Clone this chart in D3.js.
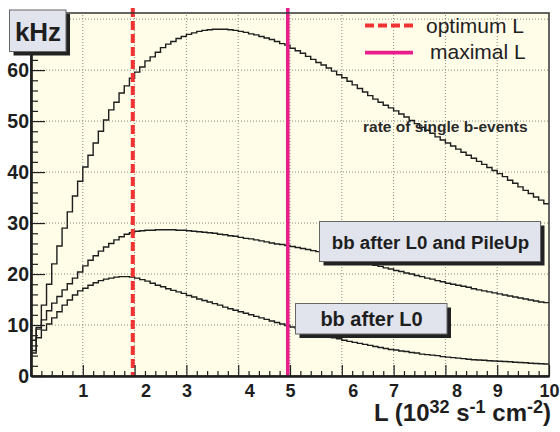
<!DOCTYPE html>
<html><head><meta charset="utf-8">
<script src="https://cdn.jsdelivr.net/npm/d3@7"></script>
<style>
body{margin:0;background:#fff}
svg{display:block}
text{font-family:"Liberation Sans",Arial,Helvetica,sans-serif}
</style>
</head><body>
<svg id="c" width="560" height="432"></svg>
<script>
// ---- data (kHz per luminosity bin of 0.1, L from 0 to 10) ----
const singleB = [
 5.0, 9.5, 13.9, 18.0, 22.0, 25.5, 29.0, 32.2, 35.3, 38.2,
 41.0, 43.3, 45.7, 48.0, 50.2, 52.2, 53.7, 55.5, 56.9, 58.4,
 59.6, 60.6, 61.8, 62.6, 63.5, 64.4, 65.1, 65.6, 66.2, 66.6,
 67.0, 67.3, 67.6, 67.8, 67.9, 68.0, 68.0, 68.0, 67.9, 67.8,
 67.6, 67.4, 67.1, 66.9, 66.6, 66.3, 66.0, 65.6, 65.2, 64.9,
 64.3, 63.8, 63.3, 62.7, 62.1, 61.5, 61.0, 60.4, 59.8, 59.1,
 58.5, 57.8, 57.1, 56.4, 55.7, 55.0, 54.3, 53.7, 53.1, 52.6,
 52.0, 51.4, 50.8, 50.1, 49.5, 48.8, 48.2, 47.6, 46.9, 46.3,
 45.7, 45.1, 44.5, 43.9, 43.3, 42.7, 42.1, 41.5, 40.9, 40.3,
 39.7, 39.1, 38.4, 37.8, 37.1, 36.4, 35.8, 35.1, 34.5, 33.8];
const bbL0PileUp = [
 7.0, 9.2, 11.0, 12.8, 14.3, 15.6, 16.9, 18.1, 19.2, 20.4,
 21.6, 22.7, 23.6, 24.5, 25.3, 26.0, 26.7, 27.3, 27.8, 28.1,
 28.4, 28.5, 28.6, 28.6, 28.7, 28.7, 28.7, 28.7, 28.6, 28.6,
 28.5, 28.4, 28.3, 28.2, 28.1, 28.0, 27.8, 27.7, 27.5, 27.4,
 27.2, 27.0, 26.9, 26.7, 26.5, 26.3, 26.1, 25.9, 25.8, 25.6,
 25.4, 25.2, 25.0, 24.8, 24.6, 24.4, 24.2, 23.9, 23.7, 23.4,
 23.2, 23.0, 22.7, 22.5, 22.2, 22.0, 21.7, 21.5, 21.2, 21.0,
 20.7, 20.5, 20.2, 20.0, 19.7, 19.5, 19.2, 19.0, 18.7, 18.5,
 18.2, 18.0, 17.8, 17.6, 17.4, 17.1, 16.9, 16.7, 16.5, 16.3,
 16.1, 15.9, 15.7, 15.5, 15.3, 15.1, 14.9, 14.7, 14.5, 14.4];
const bbL0 = [
 4.5, 7.5, 9.0, 10.2, 11.4, 12.6, 13.9, 14.9, 15.9, 16.7,
 17.2, 17.8, 18.3, 18.7, 19.0, 19.2, 19.4, 19.5, 19.5, 19.4,
 19.2, 18.9, 18.6, 18.2, 17.8, 17.5, 17.1, 16.8, 16.5, 16.2,
 15.8, 15.5, 15.1, 14.8, 14.5, 14.2, 13.9, 13.5, 13.2, 12.9,
 12.6, 12.3, 12.0, 11.7, 11.4, 11.1, 10.8, 10.5, 10.2, 9.9,
 9.6, 9.3, 9.1, 8.8, 8.5, 8.2, 8.0, 7.7, 7.5, 7.3,
 7.0, 6.8, 6.6, 6.4, 6.2, 6.0, 5.8, 5.6, 5.4, 5.2,
 5.1, 4.9, 4.8, 4.6, 4.5, 4.3, 4.2, 4.1, 4.0, 3.8,
 3.7, 3.6, 3.5, 3.4, 3.3, 3.2, 3.15, 3.1, 3.0, 2.95,
 2.9, 2.85, 2.8, 2.7, 2.65, 2.6, 2.5, 2.45, 2.4, 2.35];
const binWidth = 0.1;
const xTickValues = [1,2,3,4,5,6,7,8,9,10];
const yTickValues = [0,10,20,30,40,50,60,70];
const yTickLabels = ["0","10","20","30","40","50","60",""];
const optimumL = 1.965;
const maximalL = 4.957;
const legendLabels = ["optimum L", "maximal L"];
const curveLabels = ["rate of single b-events", "bb after L0 and PileUp", "bb after L0"];
const yLabel = "kHz";

// ---- layout ----
const svg = d3.select("#c");
const X0 = 31, X1 = 549, Y0 = 376, Y1 = 13;
const x = d3.scaleLinear().domain([0, 10]).range([X0, X1]);
const y = d3.scaleLinear().domain([0, 71.2]).range([Y0, Y1]);
const red = "#ef3333", magenta = "#e91e8c", ink = "#1e1e1e";

svg.append("rect").attr("x", X0).attr("y", Y1).attr("width", X1 - X0).attr("height", Y0 - Y1)
  .attr("fill", "#fffce8");

// grid
const grid = svg.append("g").attr("stroke", "#8a8a80").attr("stroke-width", 1).attr("stroke-dasharray", "1,2");
grid.selectAll(".gx").data(xTickValues.filter(d => d < 10)).join("line")
  .attr("x1", d => x(d)).attr("x2", d => x(d)).attr("y1", Y0).attr("y2", Y1);
grid.selectAll(".gy").data(yTickValues.filter(d => d > 0)).join("line")
  .attr("x1", X0).attr("x2", X1).attr("y1", d => y(d)).attr("y2", d => y(d));

// histograms
const line = d3.line().x(d => x(d[0])).y(d => y(d[1])).curve(d3.curveStepAfter);
function pts(vals) {
  const p = vals.map((v, i) => [i * binWidth, v]);
  p.push([vals.length * binWidth, vals[vals.length - 1]]);
  return p;
}
[singleB, bbL0PileUp, bbL0].forEach(vals => {
  svg.append("path").attr("d", line(pts(vals))).attr("fill", "none")
    .attr("stroke", ink).attr("stroke-width", 1.4);
});

// vertical lines
svg.append("line").attr("x1", x(optimumL)).attr("x2", x(optimumL)).attr("y1", y(72.2)).attr("y2", Y0)
  .attr("stroke", red).attr("stroke-width", 4).attr("stroke-dasharray", "9,4");
svg.append("line").attr("x1", x(maximalL)).attr("x2", x(maximalL)).attr("y1", y(72.2)).attr("y2", Y0)
  .attr("stroke", magenta).attr("stroke-width", 3.6);

// label boxes
function pave(bx, by, bw, bh, txt, fs, tx, ty) {
  const g = svg.append("g");
  g.append("rect").attr("x", bx + 4).attr("y", by + 4).attr("width", bw).attr("height", bh).attr("fill", "#222");
  g.append("rect").attr("x", bx).attr("y", by).attr("width", bw).attr("height", bh)
    .attr("fill", "#e1e4ec").attr("stroke", "#666").attr("stroke-width", 1);
  g.append("text").attr("x", tx).attr("y", ty).attr("text-anchor", "middle")
    .attr("font-weight", "bold").attr("font-size", fs).attr("fill", ink).text(txt);
}
pave(319.5, 221.5, 221, 40, curveLabels[1], 18.7, 430.5, 248.5);
pave(295.5, 303.5, 151.5, 30.5, curveLabels[2], 20, 371.5, 325.5);

svg.append("text").attr("x", 363).attr("y", 132).attr("font-weight", "bold").attr("font-size", 15.5)
  .attr("fill", "#2a2a2a").text(curveLabels[0]);

// frame
svg.append("rect").attr("x", X0).attr("y", Y1).attr("width", X1 - X0).attr("height", Y0 - Y1)
  .attr("fill", "none").attr("stroke", "#333").attr("stroke-width", 1.5);

// axes
const minorX = d3.range(0, 10.001, 0.2).filter(d => Math.abs(d - Math.round(d)) > 1e-6);
const minorY = d3.range(0, 71, 2).filter(d => d % 10 !== 0);

const gxm = svg.append("g").attr("transform", `translate(0,${Y0})`)
  .call(d3.axisBottom(x).tickValues(minorX).tickSize(-5).tickSizeOuter(0).tickFormat(""));
const gx = svg.append("g").attr("transform", `translate(0,${Y0})`)
  .call(d3.axisBottom(x).tickValues(xTickValues).tickSize(-11).tickSizeOuter(0).tickPadding(8).tickFormat(d3.format("d")));
gx.selectAll("text").attr("font-size", 18).attr("font-weight", "bold").attr("fill", ink)
  .attr("dx", d => (d % 2 === 0 && d < 10) ? 11 : 0);

const gym = svg.append("g").attr("transform", `translate(${X0},0)`)
  .call(d3.axisLeft(y).tickValues(minorY).tickSize(-7).tickSizeOuter(0).tickFormat(""));
const gy = svg.append("g").attr("transform", `translate(${X0},0)`)
  .call(d3.axisLeft(y).tickValues(yTickValues).tickSize(-14).tickSizeOuter(0).tickPadding(2)
    .tickFormat((d, i) => yTickLabels[i]));
gy.selectAll("text").attr("font-size", 19.5).attr("font-weight", "bold").attr("fill", ink);

[gxm, gx, gym, gy].forEach(g => {
  g.selectAll(".tick line").attr("stroke", ink).attr("stroke-width", 1.2);
  g.select(".domain").attr("stroke", ink).attr("stroke-width", 2.2);
});

// x axis title
const xt = svg.append("text").attr("x", 551).attr("y", 421).attr("text-anchor", "end")
  .attr("font-weight", "bold").attr("font-size", 24).attr("fill", ink);
xt.append("tspan").text("L (10");
xt.append("tspan").attr("dy", -8).attr("font-size", 18).text("32");
xt.append("tspan").attr("dy", 8).text(" s");
xt.append("tspan").attr("dy", -8).attr("font-size", 18).text("-1");
xt.append("tspan").attr("dy", 8).text(" cm");
xt.append("tspan").attr("dy", -8).attr("font-size", 18).text("-2");
xt.append("tspan").attr("dy", 8).text(")");

// legend
const leg = svg.append("g");
leg.append("line").attr("x1", 365).attr("x2", 413).attr("y1", 25.5).attr("y2", 25.5)
  .attr("stroke", red).attr("stroke-width", 3.8).attr("stroke-dasharray", "9,4");
leg.append("line").attr("x1", 365).attr("x2", 413).attr("y1", 52.7).attr("y2", 52.7)
  .attr("stroke", magenta).attr("stroke-width", 3.8);
leg.append("text").attr("x", 426).attr("y", 32.5).attr("font-size", 21).attr("fill", "#222").text(legendLabels[0]);
leg.append("text").attr("x", 430).attr("y", 58.5).attr("font-size", 21).attr("fill", "#222").text(legendLabels[1]);

// kHz box
const kb = svg.append("g");
kb.append("rect").attr("x", 13.5).attr("y", 14).attr("width", 56.5).attr("height", 41.5).attr("fill", "#222");
kb.append("rect").attr("x", 9.5).attr("y", 10).attr("width", 56.5).attr("height", 41.5)
  .attr("fill", "#e1e4ec").attr("stroke", "#666").attr("stroke-width", 1);
kb.append("text").attr("x", 38).attr("y", 40.5).attr("text-anchor", "middle").attr("font-weight", "bold")
  .attr("font-size", 26).attr("fill", ink).text(yLabel);
</script>
</body></html>
